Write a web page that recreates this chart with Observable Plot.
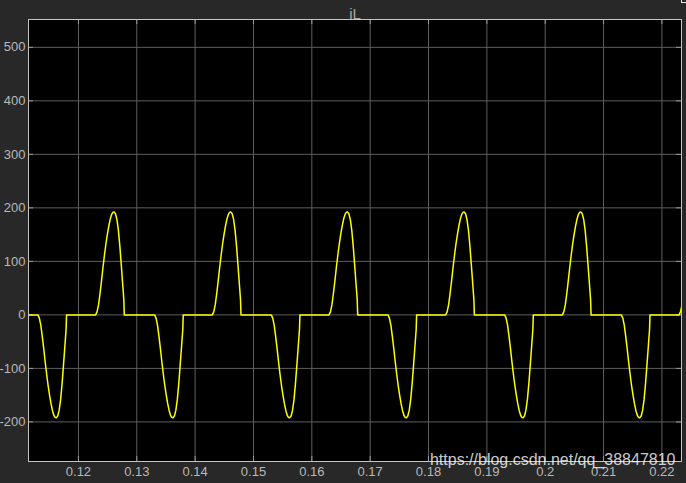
<!DOCTYPE html>
<html>
<head>
<meta charset="utf-8">
<script src="https://cdn.jsdelivr.net/npm/d3@7"></script>
<script src="https://cdn.jsdelivr.net/npm/@observablehq/plot@0.6"></script>
<style>
  html, body { margin: 0; padding: 0; background: #282828; overflow: hidden; }
  #chart { position: relative; width: 686px; height: 483px; }
  #icon { position: absolute; left: 681px; top: -3px; width: 6px; height: 6px; border: 1px solid #e0e0e0; box-sizing: border-box; }
</style>
</head>
<body>
<div id="chart"><div id="icon"></div></div>
<script>
// Values
const titleText = "iL";
const watermark = "https://blog.csdn.net/qq_38847810";
const xTicks = [0.12, 0.13, 0.14, 0.15, 0.16, 0.17, 0.18, 0.19, 0.2, 0.21, 0.22];
const yTicks = [-200, -100, 0, 100, 200, 300, 400, 500];
const xDomain = [0.11144, 0.22336];
const yDomain = [-274, 552];

// One current pulse: time from the peak (ms) and magnitude (A)
const pulseShapeMs  = [-3.15, -2.9, -2.65, -2.4, -2.15, -1.9, -1.65, -1.4, -1.15, -0.9, -0.65, -0.4, -0.2, 0, 0.25, 0.5, 0.75, 1.0, 1.25, 1.5, 1.68, 1.76];
const pulseShapeAmp = [0, 6, 19, 40, 63, 88, 111, 132, 150, 166, 179, 188, 191.5, 192.5, 189, 178, 158, 128, 92, 55, 28, 0];

// Peak times of the positive and negative pulses (s)
const positivePeaks = [0.1261, 0.1461, 0.1661, 0.1861, 0.2061, 0.2261];
const negativePeaks = [0.1162, 0.1362, 0.1562, 0.1762, 0.1962, 0.2162];

// Build the table
const pulses = [
  ...positivePeaks.map(t => ({t, s: 1})),
  ...negativePeaks.map(t => ({t, s: -1}))
].sort((a, b) => a.t - b.t);
const data = [{t: 0.1105, i: 0}];
for (const p of pulses) {
  pulseShapeMs.forEach((ms, k) => data.push({t: p.t + ms / 1000, i: p.s * pulseShapeAmp[k]}));
}
data.push({t: 0.2300, i: 0});

const fmtY = d => d < 0 ? "-" + Math.abs(d) : String(d);
const tickLenX = 5 * (yDomain[1] - yDomain[0]) / (483 - 19 - 22);
const tickLenY = 5 * (xDomain[1] - xDomain[0]) / (686 - 28 - 5);

const chart = Plot.plot({
  width: 686,
  height: 483,
  marginLeft: 28,
  marginRight: 5,
  marginTop: 19,
  marginBottom: 22,
  style: {background: "#282828", color: "#b8b8b8", fontFamily: "'Liberation Sans', Arial, sans-serif", fontSize: "13px"},
  x: {domain: xDomain, label: null},
  y: {domain: yDomain, label: null},
  marks: [
    Plot.frame({fill: "black"}),
    Plot.gridX(xTicks, {stroke: "#5e5e5e", strokeOpacity: 1}),
    Plot.gridY(yTicks, {stroke: "#5e5e5e", strokeOpacity: 1}),
    Plot.ruleX(xTicks, {y1: yDomain[1], y2: yDomain[1] - tickLenX, stroke: "#9a9a9a"}),
    Plot.ruleX(xTicks, {y1: yDomain[0], y2: yDomain[0] + tickLenX, stroke: "#9a9a9a"}),
    Plot.ruleY(yTicks, {x1: xDomain[0], x2: xDomain[0] + tickLenY, stroke: "#9a9a9a"}),
    Plot.ruleY(yTicks, {x1: xDomain[1], x2: xDomain[1] - tickLenY, stroke: "#9a9a9a"}),
    Plot.axisX(xTicks, {tickSize: 0, tickPadding: 5, tickFormat: d => String(d), fill: "#b8b8b8"}),
    Plot.axisY(yTicks, {tickSize: 0, tickPadding: 3, tickFormat: fmtY, fill: "#b8b8b8"}),
    Plot.line(data, {x: "t", y: "i", stroke: "#ffff00", strokeWidth: 1.5, curve: "linear", clip: true}),
    Plot.frame({stroke: "#c4c4c4"}),
    Plot.text([titleText], {frameAnchor: "top", dy: -11, fill: "#a8a8a8", fontSize: 15}),
    Plot.text([watermark], {frameAnchor: "bottom-right", textAnchor: "end", dx: -6, dy: 3.5, fill: "white", fillOpacity: 0.8, fontSize: 16})
  ]
});
document.getElementById("chart").prepend(chart);
</script>
</body>
</html>
